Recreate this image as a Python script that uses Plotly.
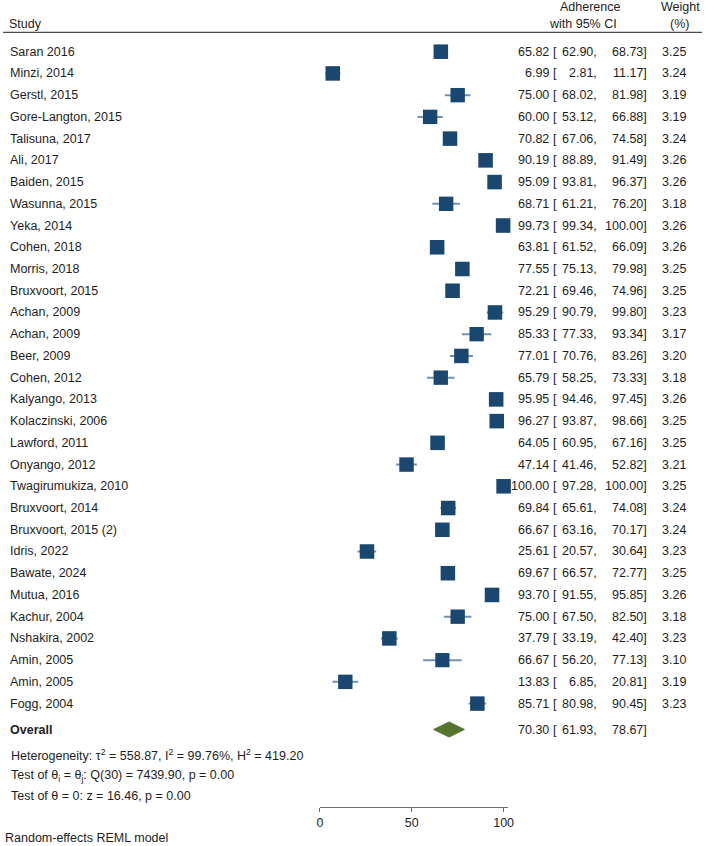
import plotly.graph_objects as go
import math

studies = ["Saran 2016", "Minzi, 2014", "Gerstl, 2015", "Gore-Langton, 2015", "Talisuna, 2017",
           "Ali, 2017", "Baiden, 2015", "Wasunna, 2015", "Yeka, 2014", "Cohen, 2018",
           "Morris, 2018", "Bruxvoort, 2015", "Achan, 2009", "Achan, 2009", "Beer, 2009",
           "Cohen, 2012", "Kalyango, 2013", "Kolaczinski, 2006", "Lawford, 2011", "Onyango, 2012",
           "Twagirumukiza, 2010", "Bruxvoort, 2014", "Bruxvoort, 2015 (2)", "Idris, 2022", "Bawate, 2024",
           "Mutua, 2016", "Kachur, 2004", "Nshakira, 2002", "Amin, 2005", "Amin, 2005", "Fogg, 2004"]
estimate = [65.82, 6.99, 75.00, 60.00, 70.82, 90.19, 95.09, 68.71, 99.73, 63.81,
            77.55, 72.21, 95.29, 85.33, 77.01, 65.79, 95.95, 96.27, 64.05, 47.14,
            100.00, 69.84, 66.67, 25.61, 69.67, 93.70, 75.00, 37.79, 66.67, 13.83, 85.71]
ci_low = [62.90, 2.81, 68.02, 53.12, 67.06, 88.89, 93.81, 61.21, 99.34, 61.52,
          75.13, 69.46, 90.79, 77.33, 70.76, 58.25, 94.46, 93.87, 60.95, 41.46,
          97.28, 65.61, 63.16, 20.57, 66.57, 91.55, 67.50, 33.19, 56.20, 6.85, 80.98]
ci_high = [68.73, 11.17, 81.98, 66.88, 74.58, 91.49, 96.37, 76.20, 100.00, 66.09,
           79.98, 74.96, 99.80, 93.34, 83.26, 73.33, 97.45, 98.66, 67.16, 52.82,
           100.00, 74.08, 70.17, 30.64, 72.77, 95.85, 82.50, 42.40, 77.13, 20.81, 90.45]
weight = [3.25, 3.24, 3.19, 3.19, 3.24, 3.26, 3.26, 3.18, 3.26, 3.26,
          3.25, 3.25, 3.23, 3.17, 3.20, 3.18, 3.26, 3.25, 3.25, 3.21,
          3.25, 3.24, 3.24, 3.23, 3.25, 3.26, 3.18, 3.23, 3.10, 3.19, 3.23]
overall = {"label": "Overall", "est": 70.30, "lo": 61.93, "hi": 78.67}
x_ticks = [0, 50, 100]

W, H = 708, 846
ROW0, ROWH = 51.7, 21.73
FONT = "Liberation Sans, Arial, sans-serif"
FS = 12.5
TXT = "#1e1e1e"
NAVY = "#1a476f"
CI_COL = "#7390ad"
GREEN = "#55752f"

n = len(studies)
rows = list(range(n))
overall_row = (729.5 - ROW0) / ROWH

def px(x):
    return x / W

def py(y):
    return 1 - y / H

fig = go.Figure()

# CI lines
cx, cy = [], []
for i in rows:
    cx += [ci_low[i], ci_high[i], None]
    cy += [i, i, None]
fig.add_trace(go.Scatter(x=cx, y=cy, mode="lines", line=dict(color=CI_COL, width=2),
                         hoverinfo="skip", showlegend=False, cliponaxis=False))

# squares
sizes = [14.5 * math.sqrt(w / 3.23) for w in weight]
fig.add_trace(go.Scatter(x=estimate, y=rows, mode="markers",
                         marker=dict(symbol="square", size=sizes, color=NAVY, opacity=1,
                                     line=dict(width=0)),
                         showlegend=False, cliponaxis=False))

# diamond
hh = 7.5 / ROWH
fig.add_trace(go.Scatter(x=[overall["lo"], overall["est"], overall["hi"], overall["est"], overall["lo"]],
                         y=[overall_row, overall_row - hh, overall_row, overall_row + hh, overall_row],
                         mode="lines", fill="toself", fillcolor=GREEN, line=dict(color=GREEN, width=1),
                         showlegend=False, cliponaxis=False))

ann = []
def add(text, x, y, xanchor="left", yref="y", bold=False):
    ann.append(dict(text=("<b>%s</b>" % text) if bold else text, x=x, y=y, xref="paper", yref=yref,
                    xanchor=xanchor, yanchor="middle", showarrow=False,
                    font=dict(family=FONT, size=FS, color=TXT)))

for i in rows:
    add(studies[i], px(5.5), i)
    add("%.2f" % estimate[i], px(555.5), i, "right")
    add("[", px(555.5), i, "left")
    add("%.2f," % ci_low[i], px(604), i, "right")
    add("%.2f]" % ci_high[i], px(654), i, "right")
    add("%.2f" % weight[i], px(694), i, "right")

add(overall["label"], px(5.5), overall_row, bold=True)
add("%.2f" % overall["est"], px(555.5), overall_row, "right")
add("[", px(555.5), overall_row, "left")
add("%.2f," % overall["lo"], px(604), overall_row, "right")
add("%.2f]" % overall["hi"], px(654), overall_row, "right")

# headers
add("Study", px(4.5), py(23.5), yref="paper")
add("Adherence", px(595.5), py(6.5), "center", yref="paper")
add("with 95% CI", px(587), py(23.5), "center", yref="paper")
add("Weight", px(686.5), py(6.5), "center", yref="paper")
add("(%)", px(685.5), py(23.5), "center", yref="paper")

# footer
add("Heterogeneity: τ<sup>2</sup> = 558.87, I<sup>2</sup> = 99.76%, H<sup>2</sup> = 419.20", px(6), py(755), yref="paper")
add("Test of θ<sub>i</sub> = θ<sub>j</sub>: Q(30) = 7439.90, p = 0.00", px(6), py(775.5), yref="paper")
add("Test of θ = 0: z = 16.46, p = 0.00", px(6), py(796), yref="paper")
add("Random-effects REML model", px(0.5), py(838), yref="paper")

fig.update_layout(
    width=W, height=H, margin=dict(l=0, r=0, t=0, b=0),
    paper_bgcolor="white", plot_bgcolor="white",
    annotations=ann,
    shapes=[dict(type="line", xref="paper", yref="paper", x0=0, x1=1, y0=py(32.3), y1=py(32.3),
                 line=dict(color="#4a4a4a", width=1.2))],
    xaxis=dict(domain=[px(321), px(511.7)], range=[0, 102.5], tickvals=x_ticks,
               showgrid=False, zeroline=False, showline=True, linecolor="#6e6e6e", linewidth=1.2,
               ticks="outside", ticklen=4, tickcolor="#6e6e6e", tickwidth=1.2,
               tickfont=dict(family=FONT, size=FS, color=TXT),
               anchor="free", position=py(806.7)),
    yaxis=dict(domain=[0, 1], range=[(H - ROW0) / ROWH, -ROW0 / ROWH], visible=False,
               showgrid=False, zeroline=False),
    showlegend=False,
)

fig.write_html("out.html")
